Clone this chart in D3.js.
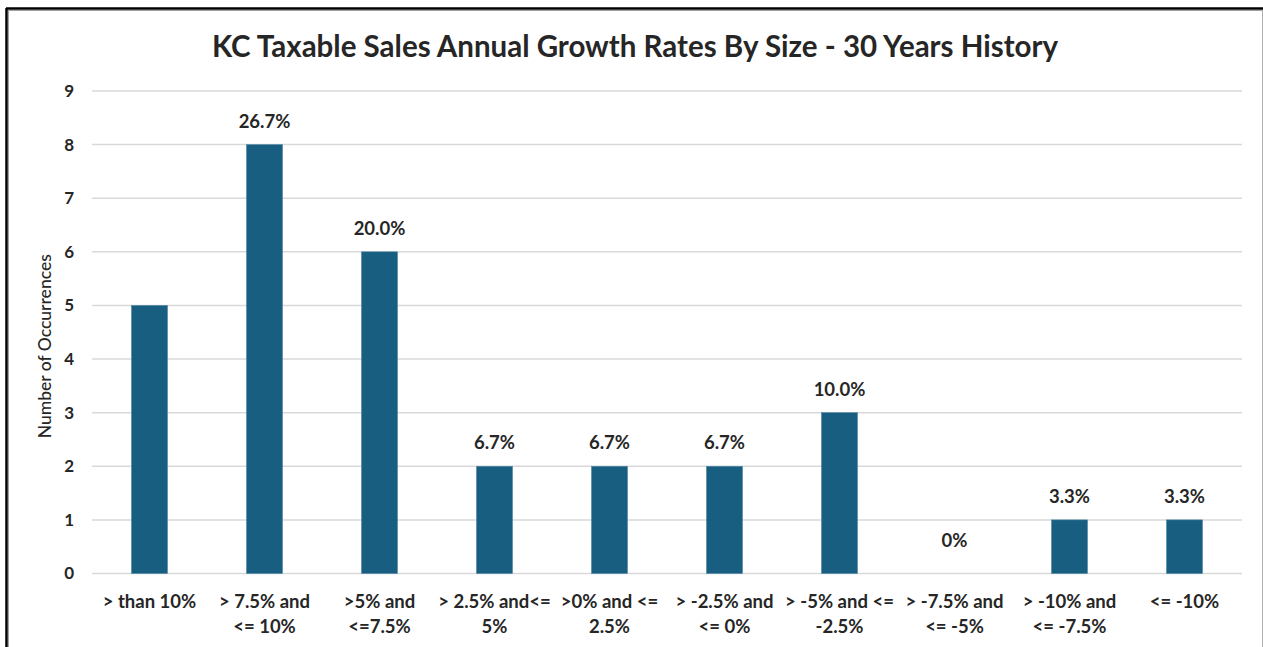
<!DOCTYPE html>
<html>
<head>
<meta charset="utf-8">
<script src="https://cdn.jsdelivr.net/npm/d3@7/dist/d3.min.js"></script>
<style>
  html, body { margin: 0; padding: 0; background: #fff; }
  svg { display: block; }
  text { font-family: Lato, "Open Sans", sans-serif; fill: #262626; }
</style>
</head>
<body>
<svg id="chart" width="1263" height="647"></svg>
<script>
// Growth-rate buckets (two lines each) and number of years in each bucket
const categories = [
  ["> than 10%", ""],
  ["> 7.5% and", "<= 10%"],
  [">5% and", "<=7.5%"],
  ["> 2.5% and<=", "5%"],
  [">0% and <=", "2.5%"],
  ["> -2.5% and", "<= 0%"],
  ["> -5% and <=", "-2.5%"],
  ["> -7.5% and", "<= -5%"],
  ["> -10% and", "<= -7.5%"],
  ["<= -10%", ""]
];
const occurrences = [5, 8, 6, 2, 2, 2, 3, 0, 1, 1];
// Share of the 30 years; the first bucket carries no label
const shareLabels = [null, "26.7%", "20.0%", "6.7%", "6.7%", "6.7%", "10.0%", "0%", "3.3%", "3.3%"];
const yTicks = [0, 1, 2, 3, 4, 5, 6, 7, 8, 9];
const title = "KC Taxable Sales Annual Growth Rates By Size - 30 Years History";
const yTitle = "Number of Occurrences";

const svg = d3.select("#chart");
const W = 1263, H = 647;
const plot = { left: 92, right: 1242, top: 91, bottom: 573.5 };

// Outer frame
svg.append("line").attr("x1", 6).attr("x2", W).attr("y1", 8.5).attr("y2", 8.5)
  .attr("stroke", "#000").attr("stroke-width", 2.5);
svg.append("line").attr("x1", 6.5).attr("x2", 6.5).attr("y1", 8).attr("y2", H)
  .attr("stroke", "#000").attr("stroke-width", 2.5);
svg.append("line").attr("x1", 8).attr("x2", W).attr("y1", 10.5).attr("y2", 10.5)
  .attr("stroke", "#a0a0a0").attr("stroke-width", 1);
svg.append("line").attr("x1", 8.5).attr("x2", 8.5).attr("y1", 10).attr("y2", H)
  .attr("stroke", "#a0a0a0").attr("stroke-width", 1);
svg.append("line").attr("x1", 1262.5).attr("x2", 1262.5).attr("y1", 10).attr("y2", H)
  .attr("stroke", "#b0b0b0").attr("stroke-width", 1);

const x = d3.scaleBand()
  .domain(d3.range(categories.length))
  .range([plot.left, plot.right])
  .paddingInner(0.687)
  .paddingOuter(0.3435);

const y = d3.scaleLinear().domain([0, 9]).range([plot.bottom, plot.top]);

// Gridlines
svg.append("g")
  .selectAll("line")
  .data(yTicks)
  .join("line")
  .attr("x1", plot.left).attr("x2", plot.right)
  .attr("y1", d => y(d)).attr("y2", d => y(d))
  .attr("stroke", "#d9d9d9").attr("stroke-width", 1.5);

// Y axis tick labels
const yAxis = d3.axisLeft(y).tickValues(yTicks).tickSize(0).tickPadding(0);
const gy = svg.append("g").attr("transform", `translate(${plot.left - 18},0)`).call(yAxis);
gy.select(".domain").remove();
gy.selectAll("text")
  .style("font-family", "Lato, sans-serif")
  .style("font-size", "17px").style("font-weight", "bold").attr("fill", "#262626");

// Y axis title
svg.append("text")
  .attr("transform", `translate(51,${(plot.top + plot.bottom) / 2 + 14}) rotate(-90)`)
  .attr("text-anchor", "middle")
  .style("font-size", "17.5px").style("font-weight", "500")
  .text(yTitle);

// Bars
svg.append("g")
  .selectAll("rect")
  .data(occurrences)
  .join("rect")
  .attr("x", (d, i) => x(i))
  .attr("width", x.bandwidth())
  .attr("y", d => y(d))
  .attr("height", d => y(0) - y(d))
  .attr("fill", "#175e80")
  .attr("stroke", "#4d86a3").attr("stroke-width", 0.6);

// Value labels
svg.append("g")
  .selectAll("text")
  .data(occurrences.map((v, i) => ({ v, i, label: shareLabels[i] })).filter(d => d.label))
  .join("text")
  .attr("x", d => x(d.i) + x.bandwidth() / 2)
  .attr("y", d => y(d.v) - (d.v === 0 ? 27 : 17))
  .attr("text-anchor", "middle")
  .style("font-size", "18.5px").style("font-weight", "bold")
  .text(d => d.label);

// Category labels
const cat = svg.append("g")
  .selectAll("text")
  .data(categories)
  .join("text")
  .attr("x", (d, i) => x(i) + x.bandwidth() / 2)
  .attr("text-anchor", "middle")
  .style("font-size", "18.5px").style("font-weight", "bold");
cat.selectAll("tspan")
  .data(d => d.filter(s => s))
  .join("tspan")
  .attr("x", function () { return d3.select(this.parentNode).attr("x"); })
  .attr("y", (d, j) => 608 + j * 25)
  .text(d => d);

// Title
svg.append("text")
  .attr("x", 635).attr("y", 57)
  .attr("text-anchor", "middle")
  .style("font-size", "29.5px").style("font-weight", "bold")
  .text(title);
</script>
</body>
</html>
